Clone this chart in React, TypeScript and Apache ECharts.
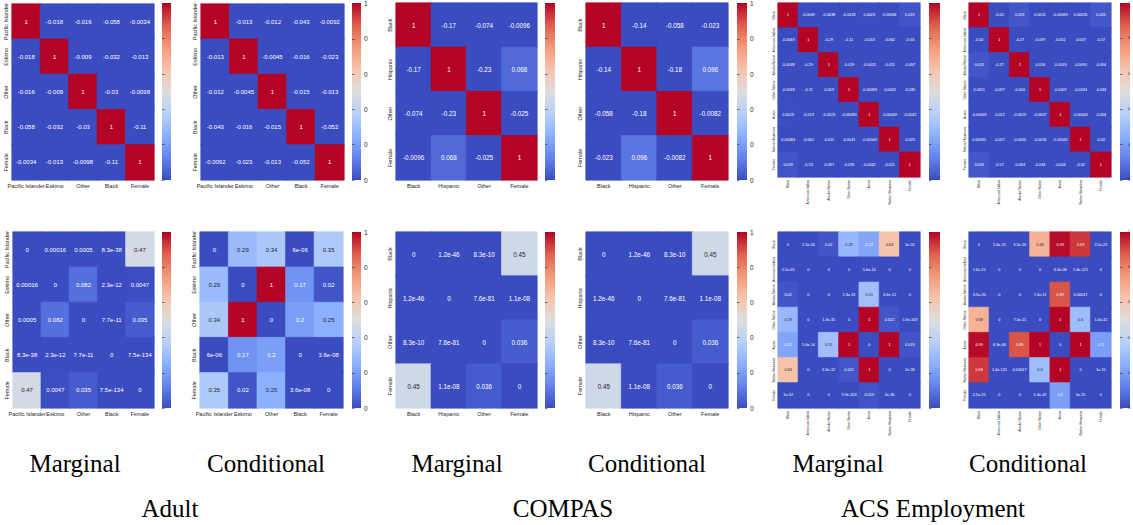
import React, { useEffect, useRef } from "react";
import * as echarts from "echarts";

// ---------- categories ----------
const ADULT_LABELS = ["Pacific Islander", "Eskimo", "Other", "Black", "Female"];
const COMPAS_LABELS = ["Black", "Hispanic", "Other", "Female"];
const ACS_LABELS = ["Black", "American Indian", "Alaska Native", "Other Native", "Asian", "Native Hawaiian", "Female"];

// ---------- Adult ----------
const ADULT_MARGINAL_CORR = [
  [1, -0.018, -0.016, -0.058, -0.0034],
  [-0.018, 1, -0.009, -0.032, -0.013],
  [-0.016, -0.009, 1, -0.03, -0.0098],
  [-0.058, -0.032, -0.03, 1, -0.11],
  [-0.0034, -0.013, -0.0098, -0.11, 1],
];
const ADULT_CONDITIONAL_CORR = [
  [1, -0.013, -0.012, -0.043, -0.0092],
  [-0.013, 1, -0.0045, -0.016, -0.023],
  [-0.012, -0.0045, 1, -0.015, -0.013],
  [-0.043, -0.016, -0.015, 1, -0.052],
  [-0.0092, -0.023, -0.013, -0.052, 1],
];
const ADULT_MARGINAL_P = [
  [0, 0.00016, 0.0005, 8.3e-38, 0.47],
  [0.00016, 0, 0.082, 2.3e-12, 0.0047],
  [0.0005, 0.082, 0, 7.7e-11, 0.035],
  [8.3e-38, 2.3e-12, 7.7e-11, 0, 7.5e-134],
  [0.47, 0.0047, 0.035, 7.5e-134, 0],
];
const ADULT_CONDITIONAL_P = [
  [0, 0.29, 0.34, 6e-6, 0.35],
  [0.29, 0, 1, 0.17, 0.02],
  [0.34, 1, 0, 0.2, 0.25],
  [6e-6, 0.17, 0.2, 0, 3.6e-8],
  [0.35, 0.02, 0.25, 3.6e-8, 0],
];

// ---------- COMPAS ----------
const COMPAS_MARGINAL_CORR = [
  [1, -0.17, -0.074, -0.0096],
  [-0.17, 1, -0.23, 0.068],
  [-0.074, -0.23, 1, -0.025],
  [-0.0096, 0.068, -0.025, 1],
];
const COMPAS_CONDITIONAL_CORR = [
  [1, -0.14, -0.058, -0.023],
  [-0.14, 1, -0.18, 0.096],
  [-0.058, -0.18, 1, -0.0082],
  [-0.023, 0.096, -0.0082, 1],
];
const COMPAS_MARGINAL_P = [
  [0, 1.2e-46, 8.3e-10, 0.45],
  [1.2e-46, 0, 7.6e-81, 1.1e-8],
  [8.3e-10, 7.6e-81, 0, 0.036],
  [0.45, 1.1e-8, 0.036, 0],
];
const COMPAS_CONDITIONAL_P = [
  [0, 1.2e-46, 8.3e-10, 0.45],
  [1.2e-46, 0, 7.6e-81, 1.1e-8],
  [8.3e-10, 7.6e-81, 0, 0.036],
  [0.45, 1.1e-8, 0.036, 0],
];

// ---------- ACS Employment ----------
const ACS_MARGINAL_CORR = [
  [1, -0.0069, -0.0038, -0.0018, 0.0023, 0.00084, 0.019],
  [-0.0069, 1, -0.29, -0.11, -0.013, -0.062, -0.53],
  [-0.0038, -0.29, 1, -0.019, -0.0023, -0.011, -0.097],
  [-0.0018, -0.11, -0.019, 1, -0.00083, -0.0041, -0.035],
  [0.0023, -0.013, -0.0023, -0.00083, 1, -0.00049, -0.0042],
  [0.00084, -0.062, -0.011, -0.0041, -0.00049, 1, -0.021],
  [0.019, -0.53, -0.097, -0.035, -0.0042, -0.021, 1],
];
const ACS_CONDITIONAL_CORR = [
  [1, -0.02, 0.023, 0.0011, -0.00069, 0.00035, 0.026],
  [-0.02, 1, -0.27, -0.097, -0.012, -0.057, -0.57],
  [0.023, -0.27, 1, -0.016, -0.0019, -0.0095, -0.094],
  [0.0011, -0.097, -0.016, 1, -0.0007, -0.0034, -0.034],
  [-0.00069, -0.012, -0.0019, -0.0007, 1, -0.00041, -0.004],
  [0.00035, -0.057, -0.0095, -0.0034, -0.00041, 1, -0.02],
  [0.026, -0.57, -0.094, -0.034, -0.004, -0.02, 1],
];
const ACS_MARGINAL_P = [
  [0, 2.1e-5, 0.02, 0.28, 0.22, 0.63, 1e-32],
  [2.1e-5, 0, 0, 0, 5.6e-14, 0, 0],
  [0.02, 0, 0, 1.3e-31, 0.31, 6.6e-12, 0],
  [0.28, 0, 1.3e-31, 0, 1, 0.022, 5.9e-103],
  [0.22, 5.6e-14, 0.31, 1, 0, 1, 0.019],
  [0.63, 0, 6.6e-12, 0.022, 1, 0, 2e-36],
  [1e-32, 0, 0, 5.9e-103, 0.019, 2e-36, 0],
];
const ACS_CONDITIONAL_P = [
  [0, 1.6e-15, 3.5e-20, 0.68, 0.99, 0.93, 2.5e-25],
  [1.6e-15, 0, 0, 0, 6.3e-6, 1.4e-121, 0],
  [3.5e-20, 0, 0, 7.4e-11, 0.89, 0.00017, 0],
  [0.68, 0, 7.4e-11, 0, 1, 0.3, 1.4e-42],
  [0.99, 6.3e-6, 0.89, 1, 0, 1, 0.2],
  [0.93, 1.4e-121, 0.00017, 0.3, 1, 0, 1e-15],
  [2.5e-25, 0, 0, 1.4e-42, 0.2, 1e-15, 0],
];

// ---------- texts ----------
const COLUMN_TITLES = ["Marginal", "Conditional", "Marginal", "Conditional", "Marginal", "Conditional"];
const DATASET_TITLES = ["Adult", "COMPAS", "ACS Employment"];
const COLORBAR_TICKS = [0, 0.2, 0.4, 0.6, 0.8, 1];

// coolwarm colormap (evenly spaced stops)
const COOLWARM = ["#3b4cc0", "#6282ea", "#8db0fe", "#b8d0f9", "#dddddd", "#f5c4ac", "#f49a7b", "#de604d", "#b40426"];

function fmtG2(v: number): string {
  if (v === 0) return "0";
  const e = v.toExponential(1);
  const [mant, expStr] = e.split("e");
  const exp = parseInt(expStr, 10);
  if (exp < -4 || exp >= 2) {
    const m = mant.replace(/\.0$/, "");
    let ae = String(Math.abs(exp));
    if (ae.length < 2) ae = "0" + ae;
    return m + "e" + (exp < 0 ? "-" : "+") + ae;
  }
  let s = v.toFixed(Math.max(0, 1 - exp));
  if (s.indexOf(".") >= 0) s = s.replace(/0+$/, "").replace(/\.$/, "");
  return s;
}

function hexToRgb(h: string): number[] {
  return [parseInt(h.slice(1, 3), 16), parseInt(h.slice(3, 5), 16), parseInt(h.slice(5, 7), 16)];
}
function cmap(t: number): number[] {
  const c = Math.max(0, Math.min(1, t)) * (COOLWARM.length - 1);
  const i = Math.min(COOLWARM.length - 2, Math.floor(c));
  const f = c - i;
  const a = hexToRgb(COOLWARM[i]);
  const b = hexToRgb(COOLWARM[i + 1]);
  return [0, 1, 2].map((k) => a[k] + (b[k] - a[k]) * f);
}
function cmapCss(t: number): string {
  const c = cmap(t).map((x) => Math.round(x));
  return `rgb(${c[0]},${c[1]},${c[2]})`;
}
function textColorFor(v: number): string {
  const rgb = cmap(v).map((x) => {
    const c = x / 255;
    return c <= 0.03928 ? c / 12.92 : Math.pow((c + 0.055) / 1.055, 2.4);
  });
  const lum = 0.2126 * rgb[0] + 0.7152 * rgb[1] + 0.0722 * rgb[2];
  return lum > 0.408 ? "#262626" : "#ffffff";
}

type Panel = {
  labels: string[];
  values: number[][];
  x: number; y: number; w: number; h: number;
  cbx: number; cbw: number; cby: number; cbh: number;
  cell: number; axis: number; rotX: number;
  cbLabel: number; // 0 = none
};

const TOP_Y = 3;
const BOT_Y = 232;

const PANELS: Panel[] = [
  { labels: ADULT_LABELS, values: ADULT_MARGINAL_CORR, x: 12, y: TOP_Y, w: 142, h: 177, cbx: 162, cbw: 9, cby: TOP_Y, cbh: 177, cell: 6, axis: 5.5, rotX: 0, cbLabel: 0 },
  { labels: ADULT_LABELS, values: ADULT_CONDITIONAL_CORR, x: 201, y: TOP_Y, w: 143, h: 177, cbx: 352, cbw: 9, cby: TOP_Y, cbh: 177, cell: 6, axis: 5.5, rotX: 0, cbLabel: 6.5 },
  { labels: COMPAS_LABELS, values: COMPAS_MARGINAL_CORR, x: 396, y: TOP_Y, w: 141, h: 177, cbx: 545, cbw: 10, cby: TOP_Y, cbh: 177, cell: 6.3, axis: 5.5, rotX: 0, cbLabel: 0 },
  { labels: COMPAS_LABELS, values: COMPAS_CONDITIONAL_CORR, x: 586, y: TOP_Y, w: 142, h: 177, cbx: 737, cbw: 10, cby: TOP_Y, cbh: 177, cell: 6.3, axis: 5.5, rotX: 0, cbLabel: 6.5 },
  { labels: ACS_LABELS, values: ACS_MARGINAL_CORR, x: 778, y: TOP_Y, w: 142, h: 174, cbx: 929, cbw: 11, cby: TOP_Y, cbh: 177, cell: 3.8, axis: 3.4, rotX: 90, cbLabel: 0 },
  { labels: ACS_LABELS, values: ACS_CONDITIONAL_CORR, x: 969, y: TOP_Y, w: 142, h: 174, cbx: 1120, cbw: 10, cby: TOP_Y, cbh: 177, cell: 3.8, axis: 3.4, rotX: 90, cbLabel: 3.5 },
  { labels: ADULT_LABELS, values: ADULT_MARGINAL_P, x: 13, y: BOT_Y, w: 141, h: 176, cbx: 162, cbw: 9, cby: BOT_Y, cbh: 176, cell: 6, axis: 5.5, rotX: 0, cbLabel: 0 },
  { labels: ADULT_LABELS, values: ADULT_CONDITIONAL_P, x: 200, y: BOT_Y, w: 143, h: 176, cbx: 352, cbw: 9, cby: BOT_Y, cbh: 176, cell: 6, axis: 5.5, rotX: 0, cbLabel: 6.5 },
  { labels: COMPAS_LABELS, values: COMPAS_MARGINAL_P, x: 396, y: BOT_Y, w: 141, h: 176, cbx: 545, cbw: 10, cby: BOT_Y, cbh: 176, cell: 6.3, axis: 5.5, rotX: 0, cbLabel: 0 },
  { labels: COMPAS_LABELS, values: COMPAS_CONDITIONAL_P, x: 586, y: BOT_Y, w: 142, h: 176, cbx: 737, cbw: 10, cby: BOT_Y, cbh: 176, cell: 6.3, axis: 5.5, rotX: 0, cbLabel: 6.5 },
  { labels: ACS_LABELS, values: ACS_MARGINAL_P, x: 778, y: BOT_Y, w: 142, h: 176, cbx: 929, cbw: 11, cby: BOT_Y, cbh: 176, cell: 3.8, axis: 3.4, rotX: 90, cbLabel: 0 },
  { labels: ACS_LABELS, values: ACS_CONDITIONAL_P, x: 969, y: BOT_Y, w: 142, h: 176, cbx: 1120, cbw: 10, cby: BOT_Y, cbh: 176, cell: 3.8, axis: 3.4, rotX: 90, cbLabel: 3.5 },
];

const TITLE_X = [75, 266, 457, 647, 838, 1028];
const DATASET_X = [170, 563, 933];

function buildOption(): any {
  const grid: any[] = [];
  const xAxis: any[] = [];
  const yAxis: any[] = [];
  const series: any[] = [];
  const graphic: any[] = [];
  const labelColor = "#262626";
  const font = "'Liberation Sans', Arial, sans-serif";

  PANELS.forEach((p) => {
    const g = grid.length;
    grid.push({ left: p.x, top: p.y, width: p.w, height: p.h, containLabel: false });
    grid.push({ left: p.cbx, top: p.cby, width: p.cbw, height: p.cbh, containLabel: false });
    xAxis.push({
      type: "category", gridIndex: g, data: p.labels,
      axisLine: { show: false }, axisTick: { show: false }, splitLine: { show: false },
      axisLabel: { interval: 0, fontSize: p.axis, color: labelColor, fontFamily: font, margin: 3, rotate: p.rotX },
    });
    yAxis.push({
      type: "category", gridIndex: g, data: p.labels, inverse: true,
      axisLine: { show: false }, axisTick: { show: false }, splitLine: { show: false },
      axisLabel: { interval: 0, fontSize: p.axis, color: labelColor, fontFamily: font, margin: 3, rotate: 90 },
    });
    xAxis.push({ type: "value", gridIndex: g + 1, show: false, min: 0, max: 1 });
    yAxis.push({
      type: "value", gridIndex: g + 1, position: "right", min: COLORBAR_TICKS[0], max: COLORBAR_TICKS[COLORBAR_TICKS.length - 1], interval: 0.2,
      axisLine: { show: false }, splitLine: { show: false },
      axisTick: { show: true, length: 2.5, lineStyle: { color: labelColor, width: 0.6 } },
      axisLabel: {
        show: p.cbLabel > 0, fontSize: p.cbLabel || 6, color: labelColor, fontFamily: font, margin: 3,
        formatter: (v: number) => (v === 1 ? "1" : "0"),
      },
    });

    const data: any[] = [];
    p.values.forEach((row, r) => {
      row.forEach((v, c) => {
        const cl = Math.max(0, Math.min(1, v));
        data.push({
          value: [c, r, v, cl],
          label: { color: textColorFor(cl) },
          itemStyle: { borderColor: cmapCss(cl), borderWidth: 0.6 },
        });
      });
    });
    series.push({
      type: "heatmap", xAxisIndex: g, yAxisIndex: g, data, silent: true,
      label: {
        show: true, fontSize: p.cell, fontFamily: font,
        formatter: (prm: any) => fmtG2(prm.value[2]),
      },
      emphasis: { disabled: true },
    });

    graphic.push({
      type: "rect", silent: true,
      shape: { x: p.cbx, y: p.cby, width: p.cbw, height: p.cbh },
      style: {
        fill: new echarts.graphic.LinearGradient(0, 1, 0, 0,
          COOLWARM.map((c, k) => ({ offset: k / (COOLWARM.length - 1), color: c }))),
      },
    });
  });

  COLUMN_TITLES.forEach((t, i) => {
    graphic.push({
      type: "text", silent: true, x: TITLE_X[i], y: 463,
      style: { text: t, fill: "#000", font: "25px 'Liberation Serif', 'Times New Roman', serif", textAlign: "center", textVerticalAlign: "middle" },
    });
  });
  DATASET_TITLES.forEach((t, i) => {
    graphic.push({
      type: "text", silent: true, x: DATASET_X[i], y: 508,
      style: { text: t, fill: "#000", font: "25px 'Liberation Serif', 'Times New Roman', serif", textAlign: "center", textVerticalAlign: "middle" },
    });
  });

  return {
    animation: false,
    backgroundColor: "#ffffff",
    grid, xAxis, yAxis, series, graphic,
    visualMap: {
      type: "continuous", show: false, dimension: 3, min: 0, max: 1,
      seriesIndex: series.map((_, k) => k),
      inRange: { color: COOLWARM },
    },
  };
}

export default function App() {
  const ref = useRef<HTMLDivElement>(null);
  useEffect(() => {
    document.body.style.margin = "0";
    if (!ref.current) return;
    const chart = echarts.init(ref.current, undefined, { renderer: "svg" });
    chart.setOption(buildOption());
    return () => chart.dispose();
  }, []);
  return <div ref={ref} style={{ width: 1133, height: 525 }} />;
}
